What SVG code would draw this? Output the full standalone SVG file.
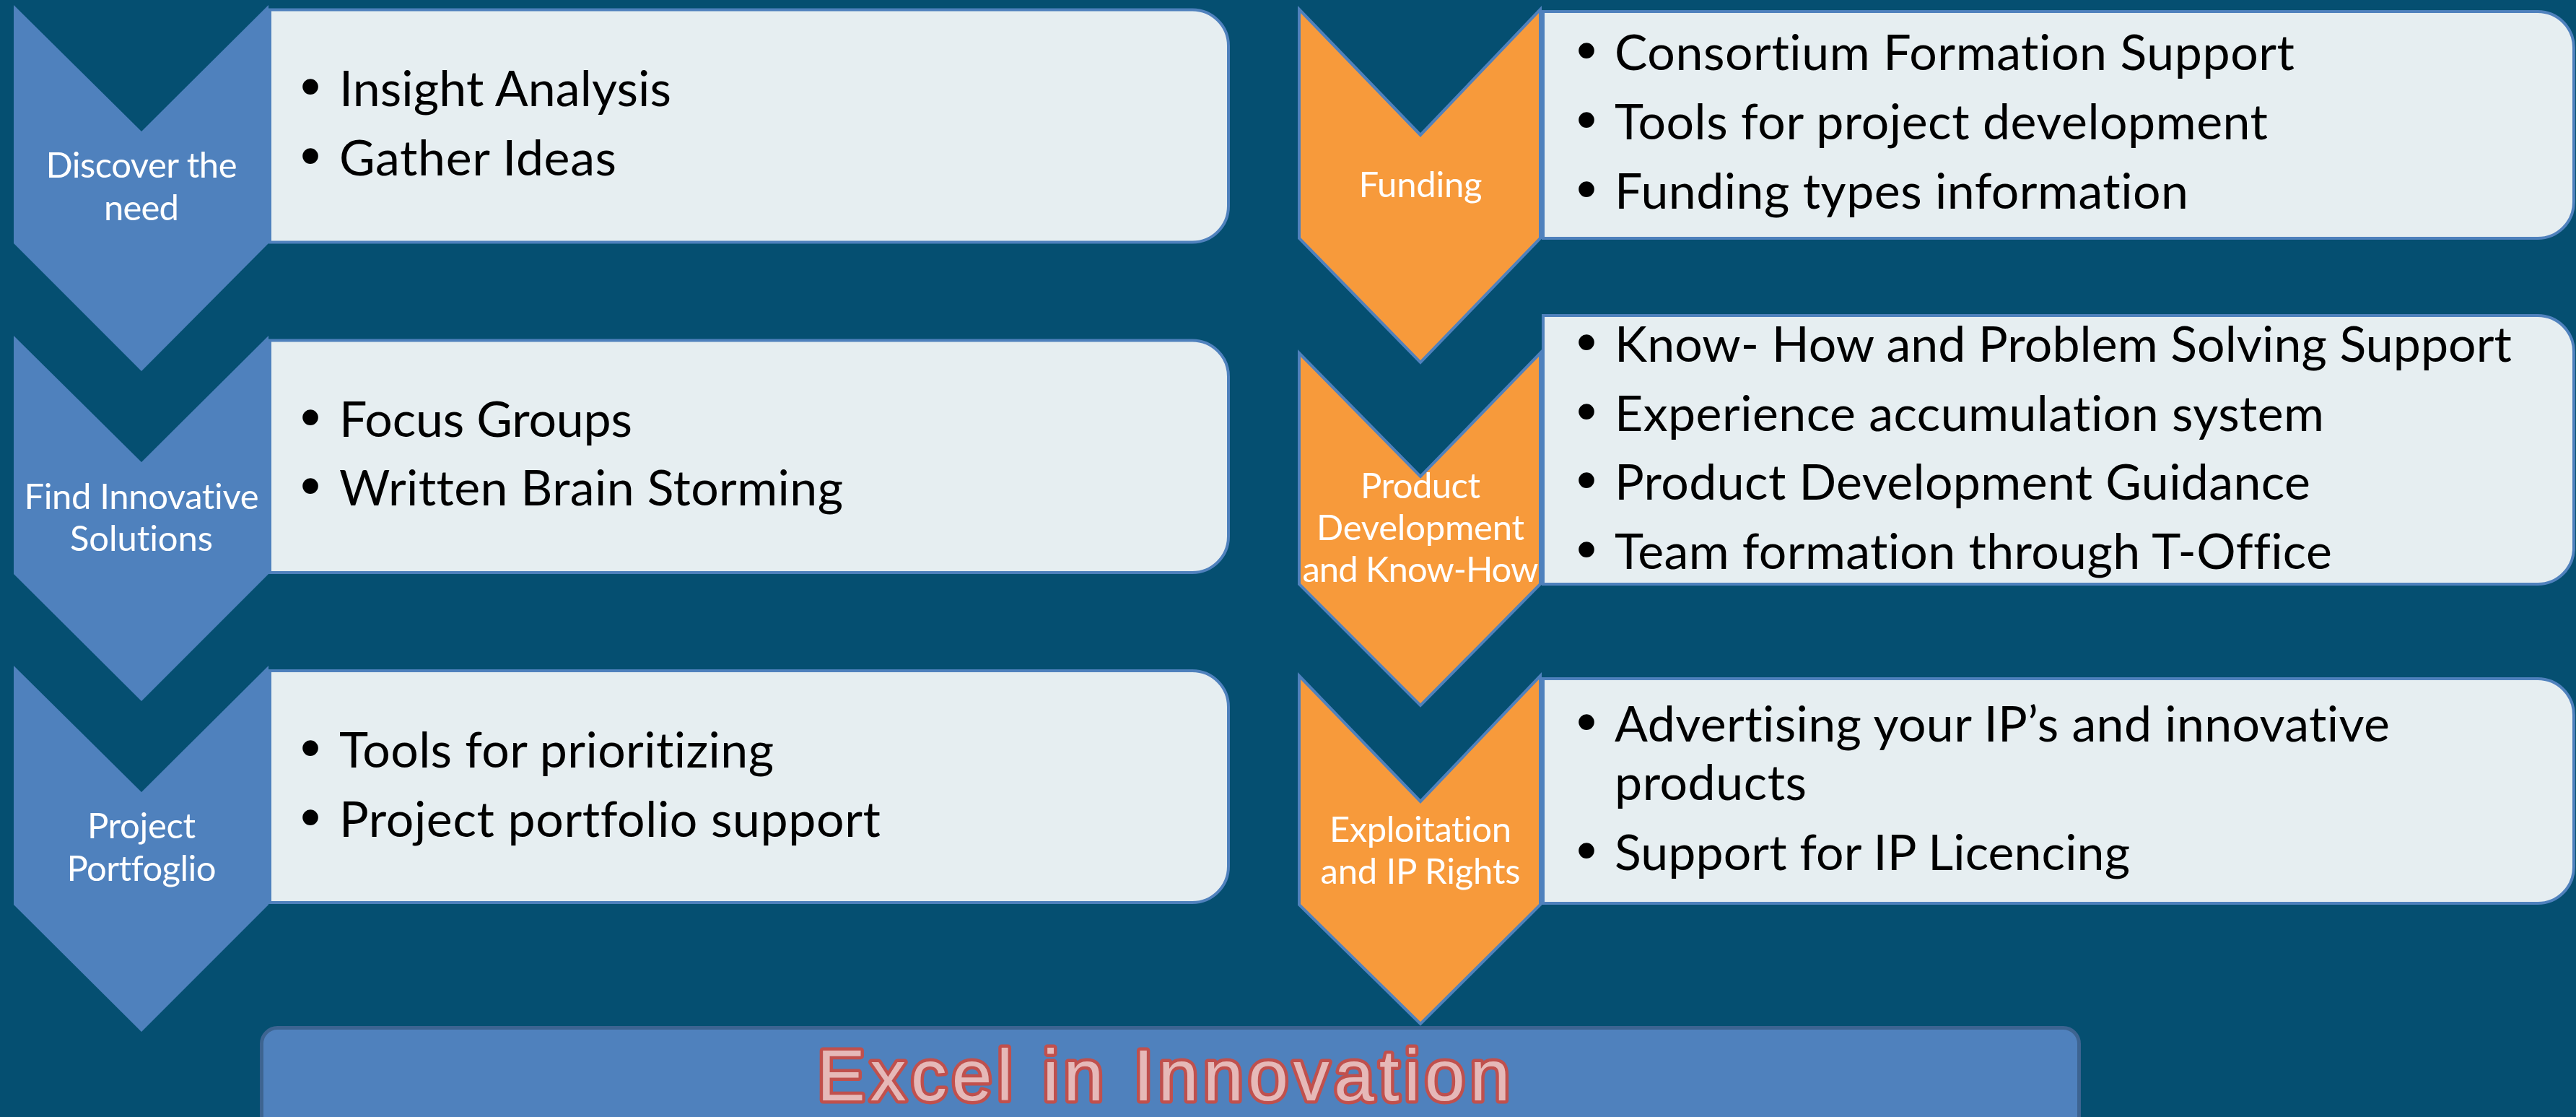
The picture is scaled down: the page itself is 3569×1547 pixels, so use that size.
<svg xmlns="http://www.w3.org/2000/svg" width="3569" height="1547" viewBox="0 0 3569 1547">
<style>
.chevL{fill:#4f81bd}
.chevR{fill:#f79a3b;stroke:#4f81bd;stroke-width:4;stroke-linejoin:miter}
.box{fill:#e6eef1;stroke:#4f81bd;stroke-width:4}
.item{font-family:Lato,"Open Sans",sans-serif;font-size:68px;fill:#000;font-variant-ligatures:none;font-feature-settings:"liga" 0,"clig" 0}
.bul{font-family:"Liberation Sans",Arial,sans-serif;font-size:80px;fill:#000;text-anchor:middle}
.lbl{font-family:Lato,"Open Sans",sans-serif;font-size:49px;fill:#fff;text-anchor:middle;font-variant-ligatures:none;font-feature-settings:"liga" 0,"clig" 0}
.banner{fill:#4f81bd;stroke:#3d6491;stroke-width:5}
.title{font-family:"Liberation Sans",Arial,sans-serif;font-size:100px;fill:#e6b9b8;stroke:#c0504d;stroke-width:9;paint-order:stroke;stroke-linejoin:round}
</style>
<rect x="0" y="0" width="3569" height="1547" fill="#054f71"/>

<g id="step-discover">
<path class="box" d="M374,13.5 H1652 A50,50 0 0 1 1702,63.5 V285.5 A50,50 0 0 1 1652,335.5 H374 Z"/>
<polygon class="chevL" points="19,7 196,182 372,7 372,337 196,514 19,337"/>
<text class="lbl" x="196" y="246" textLength="265">Discover the</text>
<text class="lbl" x="196" y="305" textLength="104">need</text>
<text class="bul" x="430" y="147">•</text>
<text class="item" x="470" y="147" textLength="460">Insight Analysis</text>
<text class="bul" x="430" y="243">•</text>
<text class="item" x="470" y="243" textLength="384">Gather Ideas</text>
</g>

<g id="step-find">
<path class="box" d="M374,471.5 H1652 A50,50 0 0 1 1702,521.5 V743 A50,50 0 0 1 1652,793 H374 Z"/>
<polygon class="chevL" points="19,465 196,640 372,465 372,795 196,971 19,795"/>
<text class="lbl" x="196" y="705" textLength="325">Find Innovative</text>
<text class="lbl" x="196" y="763" textLength="198">Solutions</text>
<text class="bul" x="430" y="605">•</text>
<text class="item" x="470" y="605" textLength="406">Focus Groups</text>
<text class="bul" x="430" y="700">•</text>
<text class="item" x="470" y="700" textLength="698">Written Brain Storming</text>
</g>

<g id="step-portfolio">
<path class="box" d="M374,929 H1652 A50,50 0 0 1 1702,979 V1200 A50,50 0 0 1 1652,1250 H374 Z"/>
<polygon class="chevL" points="19,922 196,1097 372,922 372,1253 196,1429 19,1253"/>
<text class="lbl" x="196" y="1161" textLength="150">Project</text>
<text class="lbl" x="196" y="1220" textLength="207">Portfoglio</text>
<text class="bul" x="430" y="1063">•</text>
<text class="item" x="470" y="1063" textLength="602">Tools for prioritizing</text>
<text class="bul" x="430" y="1159">•</text>
<text class="item" x="470" y="1159" textLength="750">Project portfolio support</text>
</g>

<g id="step-funding">
<path class="box" d="M2138,16 H3516 A50,50 0 0 1 3566,66 V280 A50,50 0 0 1 3516,330 H2138 Z"/>
<polygon class="chevR" points="1800,13 1968,187 2134,13 2134,330 1968,502 1800,330"/>
<text class="lbl" x="1968" y="273" textLength="171">Funding</text>
<text class="bul" x="2198" y="97">•</text>
<text class="item" x="2237" y="97" textLength="942">Consortium Formation Support</text>
<text class="bul" x="2198" y="193">•</text>
<text class="item" x="2237" y="193" textLength="905">Tools for project development</text>
<text class="bul" x="2198" y="289">•</text>
<text class="item" x="2237" y="289" textLength="795">Funding types information</text>
</g>

<g id="step-product">
<path class="box" d="M2138,437 H3516 A50,50 0 0 1 3566,487 V759 A50,50 0 0 1 3516,809 H2138 Z"/>
<polygon class="chevR" points="1800,489 1968,660 2134,489 2134,809 1968,977 1800,809"/>
<text class="lbl" x="1968" y="690" textLength="166">Product</text>
<text class="lbl" x="1968" y="748" textLength="288">Development</text>
<text class="lbl" x="1968" y="806" textLength="327">and Know-How</text>
<text class="bul" x="2198" y="501">•</text>
<text class="item" x="2237" y="501" textLength="1243">Know- How and Problem Solving Support</text>
<text class="bul" x="2198" y="597">•</text>
<text class="item" x="2237" y="597" textLength="983">Experience accumulation system</text>
<text class="bul" x="2198" y="692">•</text>
<text class="item" x="2237" y="692" textLength="964">Product Development Guidance</text>
<text class="bul" x="2198" y="788">•</text>
<text class="item" x="2237" y="788" textLength="994">Team formation through T-Office</text>
</g>

<g id="step-exploitation">
<path class="box" d="M2138,940 H3516 A50,50 0 0 1 3566,990 V1201 A50,50 0 0 1 3516,1251 H2138 Z"/>
<polygon class="chevR" points="1800,936 1968,1110 2134,936 2134,1253 1968,1418 1800,1253"/>
<text class="lbl" x="1968" y="1166" textLength="252">Exploitation</text>
<text class="lbl" x="1968" y="1224" textLength="277">and IP Rights</text>
<text class="bul" x="2198" y="1027">•</text>
<text class="item" x="2237" y="1027" textLength="1074">Advertising your IP’s and innovative</text>
<text class="item" x="2237" y="1108" textLength="266">products</text>
<text class="bul" x="2198" y="1205">•</text>
<text class="item" x="2237" y="1205" textLength="714">Support for IP Licencing</text>
</g>

<g id="banner">
<rect class="banner" x="362.5" y="1423.5" width="2518" height="200" rx="22"/>
<text class="title" x="1132" y="1524" font-size="106" textLength="960">Excel in Innovation</text>
</g>

<g id="connectors"/>
</svg>
